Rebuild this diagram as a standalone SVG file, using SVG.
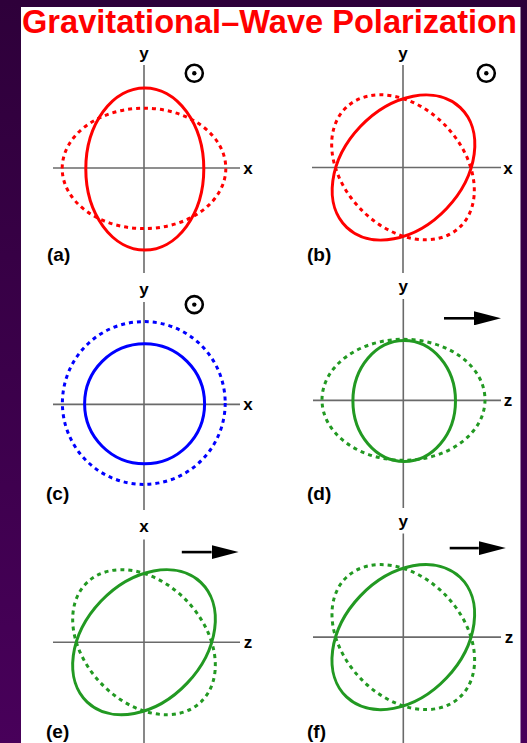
<svg xmlns="http://www.w3.org/2000/svg" width="527" height="743" viewBox="0 0 527 743">
<defs>
<linearGradient id="bg" x1="0" y1="0" x2="0" y2="1">
<stop offset="0" stop-color="#2e003a"/>
<stop offset="1" stop-color="#48005a"/>
</linearGradient>
<marker id="ah" viewBox="0 0 10 10" refX="0" refY="5" markerUnits="userSpaceOnUse" markerWidth="27" markerHeight="14" orient="auto" preserveAspectRatio="none">
<path d="M0,0 L10,5 L0,10 Z" fill="#000"/>
</marker>
<g id="odot">
<circle r="8.5" fill="none" stroke="#000" stroke-width="2.6"/>
<circle r="2.2" fill="#000"/>
</g>
<ellipse id="tilt" cx="0" cy="0" rx="82.5" ry="59.5" transform="rotate(-46.5)"/>
</defs>
<style>
.axis{stroke:#6a6a6a;stroke-width:1.6;fill:none}
.lbl{font-family:"Liberation Sans",Arial,sans-serif;font-weight:bold;font-size:17px;fill:#000}
.plab{font-family:"Liberation Sans",Arial,sans-serif;font-weight:bold;font-size:19px;fill:#000}
.solid{fill:none;stroke-width:3}
.dot{fill:none;stroke-width:3;stroke-dasharray:4 4}
.red{stroke:#ff0000}
.blue{stroke:#0000ff}
.green{stroke:#229922}
.arrow{stroke:#000;stroke-width:2.6;fill:none}
</style>
<rect x="0" y="0" width="527" height="743" fill="url(#bg)"/>
<rect x="21" y="7" width="499.5" height="736" fill="#fff"/>
<text x="22" y="33" font-family="'Liberation Sans',Arial,sans-serif" font-weight="bold" font-size="32.6" fill="#ff0000">Gravitational–Wave Polarization</text>

<g id="panel-a">
<line class="axis" x1="144" y1="65" x2="144" y2="273"/>
<line class="axis" x1="53" y1="168" x2="240" y2="168"/>
<text class="lbl" x="144" y="59" text-anchor="middle">y</text>
<text class="lbl" x="248" y="174" text-anchor="middle">x</text>
<use href="#odot" x="194.3" y="73.3"/>
<ellipse class="dot red" cx="144" cy="168.4" rx="81.8" ry="60.2"/>
<ellipse class="solid red" cx="144.8" cy="169" rx="59" ry="81"/>
<text class="plab" x="47" y="261">(a)</text>
</g>

<g id="panel-b">
<line class="axis" x1="403" y1="65" x2="403" y2="273"/>
<line class="axis" x1="312" y1="167.5" x2="501" y2="167.5"/>
<text class="lbl" x="403" y="59" text-anchor="middle">y</text>
<text class="lbl" x="508" y="173.5" text-anchor="middle">x</text>
<use href="#odot" x="486.3" y="73.3"/>
<use href="#tilt" class="dot red" transform="translate(403 167.3) scale(-1 1)"/>
<use href="#tilt" class="solid red" transform="translate(403.5 167.5)"/>
<text class="plab" x="307" y="261">(b)</text>
</g>

<g id="panel-c">
<line class="axis" x1="144" y1="302" x2="144" y2="510"/>
<line class="axis" x1="53" y1="404.4" x2="240" y2="404.4"/>
<text class="lbl" x="144" y="295" text-anchor="middle">y</text>
<text class="lbl" x="248" y="410" text-anchor="middle">x</text>
<use href="#odot" x="194.3" y="304.6"/>
<circle class="dot blue" cx="143.8" cy="403" r="81.4"/>
<circle class="solid blue" cx="144.6" cy="403.8" r="60"/>
<text class="plab" x="46" y="500">(c)</text>
</g>

<g id="panel-d">
<line class="axis" x1="403.3" y1="299" x2="403.3" y2="508"/>
<line class="axis" x1="313" y1="400.4" x2="501" y2="400.4"/>
<text class="lbl" x="403.3" y="292" text-anchor="middle">y</text>
<text class="lbl" x="508" y="406.4" text-anchor="middle">z</text>
<line class="arrow" x1="444" y1="318.3" x2="474" y2="318.3" marker-end="url(#ah)"/>
<ellipse class="dot green" cx="403.5" cy="399.8" rx="81.5" ry="60.5"/>
<ellipse class="solid green" cx="404.2" cy="401" rx="51.3" ry="60.5"/>
<text class="plab" x="307" y="500">(d)</text>
</g>

<g id="panel-e">
<line class="axis" x1="144" y1="539.5" x2="144" y2="743"/>
<line class="axis" x1="53" y1="642.2" x2="240" y2="642.2"/>
<text class="lbl" x="144" y="532" text-anchor="middle">x</text>
<text class="lbl" x="248" y="648" text-anchor="middle">z</text>
<line class="arrow" x1="181.8" y1="552.1" x2="211.6" y2="552.1" marker-end="url(#ah)"/>
<use href="#tilt" class="dot green" transform="translate(144 642.2) scale(-1 1)"/>
<use href="#tilt" class="solid green" transform="translate(144 642.2)"/>
<text class="plab" x="46" y="738">(e)</text>
</g>

<g id="panel-f">
<line class="axis" x1="403.3" y1="533.5" x2="403.3" y2="743"/>
<line class="axis" x1="313" y1="637.1" x2="501" y2="637.1"/>
<text class="lbl" x="403.3" y="527" text-anchor="middle">y</text>
<text class="lbl" x="509" y="643" text-anchor="middle">z</text>
<line class="arrow" x1="449.7" y1="548.1" x2="478.8" y2="548.1" marker-end="url(#ah)"/>
<use href="#tilt" class="dot green" transform="translate(403.3 637.1) scale(-1 1)"/>
<use href="#tilt" class="solid green" transform="translate(403.3 637.1)"/>
<text class="plab" x="307" y="738">(f)</text>
</g>
</svg>
